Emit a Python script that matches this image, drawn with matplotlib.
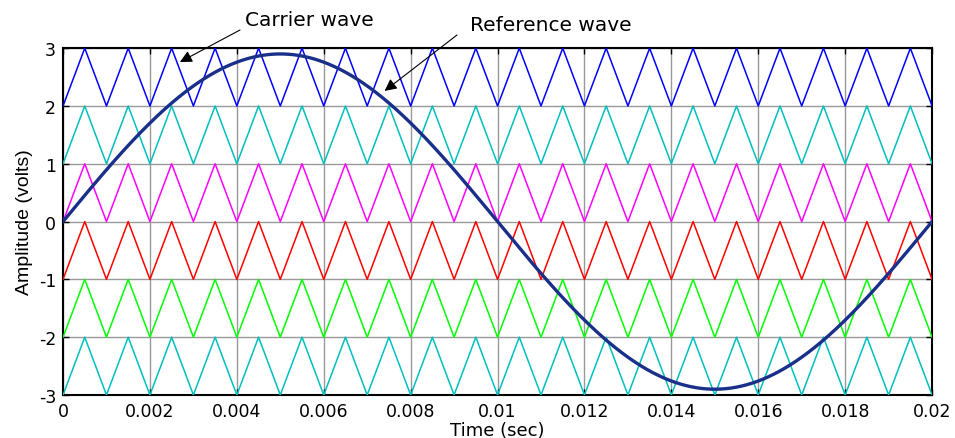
import numpy as np
import matplotlib
matplotlib.use("Agg")
import matplotlib.pyplot as plt

plt.rcParams['font.family'] = ['Liberation Sans', 'DejaVu Sans']
plt.rcParams['axes.unicode_minus'] = False

# Data
carrier_freq = 1000.0          # Hz (period 0.001 s)
carrier_bands = [2, 1, 0, -1, -2, -3]   # lower edge of each carrier band
carrier_colors = ['#0000FF', '#00BFBF', '#FF00FF', '#FF0000', '#00FF00', '#00BFBF']
ref_amplitude = 2.9
ref_freq = 50.0
xticks = [0, 0.002, 0.004, 0.006, 0.008, 0.01, 0.012, 0.014, 0.016, 0.018, 0.02]
xticklabels = ['0', '0.002', '0.004', '0.006', '0.008', '0.01', '0.012', '0.014', '0.016', '0.018', '0.02']
yticks = [-3, -2, -1, 0, 1, 2, 3]

t = np.linspace(0, 0.02, 4001)
phase = (t * carrier_freq) % 1.0
tri = 1 - np.abs(2 * phase - 1)   # 0 at start, 1 at half period

wide = ['DejaVu Sans']

fig = plt.figure(figsize=(9.55, 4.39), dpi=100)
ax = fig.add_axes([0.066, 0.098, 0.910, 0.790])

for b, c in zip(carrier_bands, carrier_colors):
    ax.plot(t, b + tri, color=c, lw=1.1, zorder=3)

ax.plot(t, ref_amplitude * np.sin(2 * np.pi * ref_freq * t), color='#1A2F8A', lw=2.4, zorder=4)

ax.set_xlim(0, 0.02)
ax.set_ylim(-3, 3)
ax.set_xticks(xticks)
ax.set_xticklabels(xticklabels, family=wide, fontsize=12.5)
ax.set_yticks(yticks)
ax.set_yticklabels([str(v) for v in yticks], family=wide, fontsize=12.5)
ax.grid(True, color='#999999', lw=1.0, zorder=1)
ax.set_axisbelow(True)
ax.tick_params(direction='in', top=True, right=True, length=4, width=1, pad=5)
for s in ax.spines.values():
    s.set_linewidth(1.5)
ax.set_xlabel('Time (sec)', fontsize=13, family=wide, labelpad=1)
ax.set_ylabel('Amplitude (volts)', fontsize=14, labelpad=4)

# Annotations
fig.text(0.3236, 0.954, 'Carrier wave', fontsize=14.5, family=wide, ha='center', va='center')
fig.text(0.577, 0.943, 'Reference wave', fontsize=14.5, family=wide, ha='center', va='center')
ax.annotate('', xy=(0.00269, 2.76), xycoords='data',
            xytext=(240 / 955, 1 - 31 / 439), textcoords='figure fraction',
            arrowprops=dict(arrowstyle='-|>', color='black', lw=0.8, mutation_scale=18,
                            shrinkA=0, shrinkB=0), annotation_clip=False)
ax.annotate('', xy=(0.00740, 2.26), xycoords='data',
            xytext=(457 / 955, 1 - 36 / 439), textcoords='figure fraction',
            arrowprops=dict(arrowstyle='-|>', color='black', lw=0.8, mutation_scale=18,
                            shrinkA=0, shrinkB=0), annotation_clip=False)

fig.savefig('out.png', dpi=100)
